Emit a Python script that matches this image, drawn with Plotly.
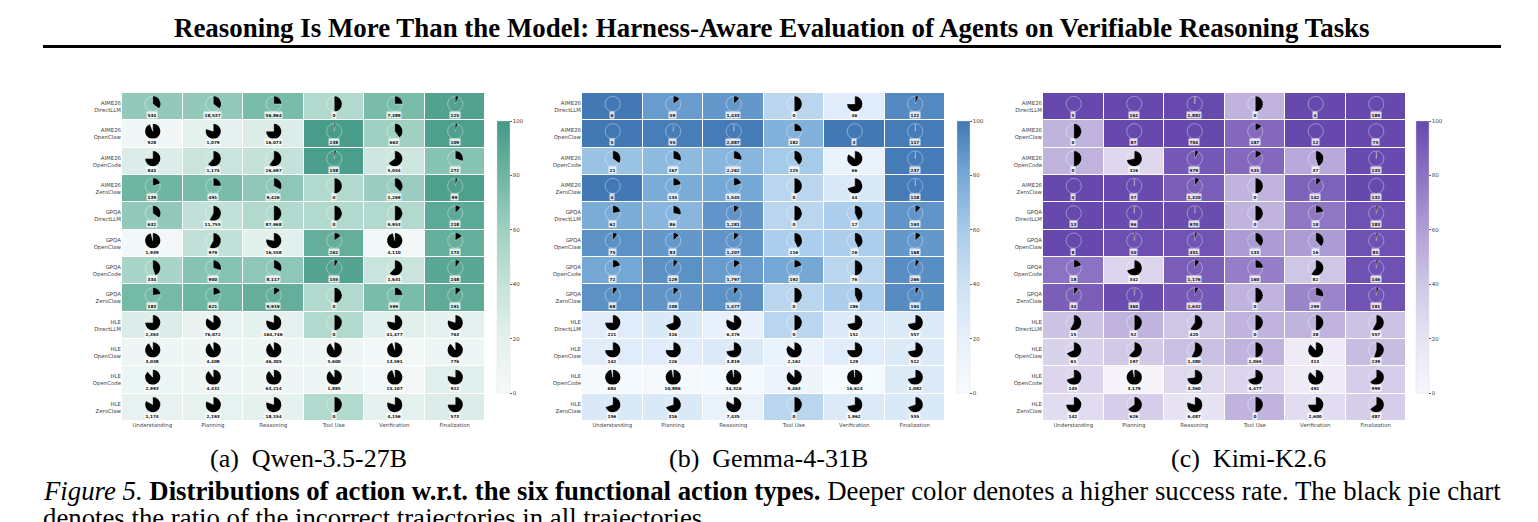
import plotly.graph_objects as go

ROWS = ["AIME26<br>DirectLLM", "AIME26<br>OpenClaw", "AIME26<br>OpenCode", "AIME26<br>ZeroClaw",
        "GPQA<br>DirectLLM", "GPQA<br>OpenClaw", "GPQA<br>OpenCode", "GPQA<br>ZeroClaw",
        "HLE<br>DirectLLM", "HLE<br>OpenClaw", "HLE<br>OpenCode", "HLE<br>ZeroClaw"]
COLS = ["Understanding", "Planning", "Reasoning", "Tool Use", "Verification", "Finalization"]
CBAR_TICKS = [0, 20, 40, 60, 80, 100]

SUCCESS_A = [[65, 65, 75, 50, 75, 93], [6, 20, 25, 97, 60, 95], [25, 38, 40, 96, 35, 70], [80, 75, 67, 50, 62, 95],
             [65, 42, 50, 50, 50, 88], [4, 42, 22, 85, 4, 84], [55, 70, 67, 92, 38, 90], [77, 80, 85, 50, 75, 87],
             [25, 15, 20, 50, 22, 20], [8, 8, 8, 8, 5, 10], [12, 10, 10, 10, 5, 22], [17, 18, 20, 50, 20, 25]]
COUNTS_A = [["534", "18,537", "56,864", "0", "7,389", "225"], ["928", "1,079", "16,073", "238", "663", "109"],
            ["843", "1,174", "26,697", "158", "5,054", "272"], ["139", "491", "9,426", "0", "1,269", "99"],
            ["632", "11,755", "87,968", "0", "9,953", "218"], ["1,939", "979", "16,558", "262", "4,110", "173"],
            ["334", "900", "8,117", "155", "1,631", "248"], ["183", "621", "9,919", "0", "599", "191"],
            ["2,363", "76,072", "164,746", "0", "41,477", "763"], ["3,038", "4,408", "46,305", "5,600", "13,591", "776"],
            ["2,993", "4,432", "63,214", "1,885", "15,107", "922"], ["1,174", "2,193", "18,154", "0", "4,156", "573"]]

SUCCESS_B = [[100, 85, 87, 50, 25, 93], [100, 98, 99, 75, 100, 99], [65, 70, 72, 60, 15, 99], [100, 78, 80, 50, 30, 99],
             [78, 72, 88, 50, 57, 88], [90, 87, 88, 57, 57, 87], [80, 90, 85, 80, 50, 91], [90, 88, 90, 50, 57, 92],
             [25, 30, 18, 50, 28, 28], [25, 25, 28, 15, 25, 28], [3, 3, 3, 12, 2, 28], [30, 30, 17, 50, 28, 30]]
COUNTS_B = [["6", "59", "1,433", "0", "46", "122"], ["5", "55", "2,087", "182", "3", "117"],
            ["21", "167", "2,262", "225", "66", "237"], ["4", "134", "1,545", "0", "44", "118"],
            ["62", "86", "1,281", "0", "17", "193"], ["75", "83", "1,207", "216", "26", "168"],
            ["72", "129", "1,797", "192", "76", "266"], ["68", "108", "1,477", "0", "286", "194"],
            ["221", "316", "6,376", "0", "152", "557"], ["142", "226", "3,819", "2,162", "129", "512"],
            ["684", "10,896", "34,326", "9,463", "16,624", "1,082"], ["156", "316", "7,435", "0", "1,962", "555"]]

SUCCESS_C = [[100, 100, 99.5, 50, 100, 100], [50, 100, 100, 85, 100, 100], [50, 28, 92, 85, 55, 99], [100, 99, 90, 50, 88, 100],
             [100, 99, 98, 50, 78, 96], [100, 97, 95, 62, 62, 96], [80, 30, 90, 75, 40, 96], [90, 98, 92, 50, 72, 95],
             [42, 50, 40, 50, 50, 42], [32, 38, 43, 50, 12, 45], [30, 3, 27, 30, 13, 35], [25, 35, 20, 50, 25, 35]]
COUNTS_C = [["5", "161", "1,882", "0", "4", "189"], ["0", "87", "704", "187", "12", "75"],
            ["0", "326", "979", "535", "37", "233"], ["4", "37", "1,320", "0", "142", "132"],
            ["13", "96", "970", "0", "18", "183"], ["8", "50", "451", "133", "16", "85"],
            ["18", "342", "1,176", "160", "82", "146"], ["34", "360", "1,632", "0", "299", "191"],
            ["15", "52", "420", "0", "38", "557"], ["61", "197", "1,380", "2,065", "313", "239"],
            ["145", "3,179", "3,360", "4,477", "492", "999"], ["142", "626", "6,487", "0", "2,600", "487"]]

SCALE_A = [[0, "#f5fafa"], [0.2, "#e4f1ee"], [0.4, "#c5e2da"], [0.6, "#9fd0c2"], [0.8, "#6eb5a2"], [1, "#449886"]]
SCALE_B = [[0, "#f7fbff"], [0.2, "#e6f0fa"], [0.4, "#cde1f4"], [0.6, "#a6cbea"], [0.8, "#76a8d6"], [1, "#4279b5"]]
SCALE_C = [[0, "#f8f6fc"], [0.2, "#e8e3f3"], [0.4, "#cfc6e6"], [0.6, "#b09fd6"], [0.8, "#8c72c2"], [1, "#6749ae"]]

W, H = 1538, 522
PANELS = [
    dict(z=SUCCESS_A, n=COUNTS_A, scale=SCALE_A, left=122, cbar=497),
    dict(z=SUCCESS_B, n=COUNTS_B, scale=SCALE_B, left=582, cbar=957),
    dict(z=SUCCESS_C, n=COUNTS_C, scale=SCALE_C, left=1043, cbar=1416),
]
MAP_W, MAP_TOP, MAP_BOTTOM = 363, 93, 421
CB_TOP, CB_BOTTOM, CB_W = 121, 393, 13
PIE_R = 7.6

fig = go.Figure()
layout_axes = {}
annotations = []
for k, p in enumerate(PANELS):
    s = "" if k == 0 else str(k + 1)
    fig.add_trace(go.Heatmap(
        z=p["z"], x=list(range(6)), y=list(range(12)),
        colorscale=p["scale"], zmin=0, zmax=100, xgap=1, ygap=1, hoverinfo="skip",
        xaxis="x" + s, yaxis="y" + s,
        colorbar=dict(
            xref="paper", yref="paper", x=p["cbar"] / W, xanchor="left", y=1 - CB_BOTTOM / H, yanchor="bottom",
            lenmode="pixels", len=CB_BOTTOM - CB_TOP, thicknessmode="pixels", thickness=CB_W, xpad=0, ypad=0,
            tickvals=CBAR_TICKS, ticks="outside", ticklen=2, tickwidth=0.5, tickcolor="#555",
            tickfont=dict(family="DejaVu Sans", size=5.5, color="#444"),
            outlinewidth=0.4, outlinecolor="#dddddd"),
    ))
    layout_axes["xaxis" + s] = dict(
        domain=[p["left"] / W, (p["left"] + MAP_W) / W], range=[-0.5, 5.5], anchor="y" + s,
        tickvals=list(range(6)), ticktext=COLS, ticks="", showgrid=False, zeroline=False, showline=False,
        tickfont=dict(family="DejaVu Sans", size=5.4, color="#444"))
    layout_axes["yaxis" + s] = dict(
        domain=[1 - MAP_BOTTOM / H, 1 - MAP_TOP / H], range=[11.5, -0.5], anchor="x" + s,
        tickvals=list(range(12)), ticktext=ROWS, ticks="", showgrid=False, zeroline=False, showline=False,
        tickfont=dict(family="DejaVu Sans", size=5.4, color="#444"))
    cw, ch = MAP_W / 6, (MAP_BOTTOM - MAP_TOP) / 12
    for i, row in enumerate(p["z"]):
        for j, v in enumerate(row):
            cx = p["left"] + (j + 0.5) * cw + 0.5
            cy = MAP_TOP + (i + 0.40) * ch
            fig.add_trace(go.Pie(
                values=[100 - v, v], sort=False, direction="clockwise", rotation=0, textinfo="none",
                hoverinfo="skip", showlegend=False,
                marker=dict(colors=["#000000", "rgba(255,255,255,0)"],
                            line=dict(color=["rgba(255,255,255,0)", "rgba(255,255,255,0.75)"], width=0.5)),
                domain=dict(x=[(cx - PIE_R) / W, (cx + PIE_R) / W], y=[1 - (cy + PIE_R) / H, 1 - (cy - PIE_R) / H]),
            ))
            annotations.append(dict(
                x=j, y=i + 0.305, xref="x" + s, yref="y" + s, text=p["n"][i][j], showarrow=False,
                font=dict(family="DejaVu Sans", size=4.2, color="#111", weight="bold"),
                bgcolor="rgba(255,255,255,0.8)", borderpad=0.5))

def paper_text(x, y, text, size, anchor="center"):
    annotations.append(dict(x=x / W, y=1 - y / H, xref="paper", yref="paper", text=text, showarrow=False,
                            xanchor=anchor, yanchor="middle",
                            font=dict(family="Liberation Serif", size=size, color="#000")))

paper_text(772, 28, "<b>Reasoning Is More Than the Model: Harness-Aware Evaluation of Agents on Verifiable Reasoning Tasks</b>", 26.9)
paper_text(308, 458, "(a)  Qwen-3.5-27B", 26)
paper_text(768, 458, "(b)  Gemma-4-31B", 26)
paper_text(1248, 458, "(c)  Kimi-K2.6", 26)
paper_text(40.5, 491, "<i>Figure 5.</i> <b>Distributions of action w.r.t. the six functional action types.</b> Deeper color denotes a higher success rate. The black pie chart", 26.77, "left")
paper_text(40.5, 518, "denotes the ratio of the incorrect trajectories in all trajectories.", 26.77, "left")

fig.update_layout(
    width=W, height=H, margin=dict(l=0, r=0, t=0, b=0), paper_bgcolor="white", plot_bgcolor="white",
    annotations=annotations, showlegend=False,
    shapes=[dict(type="line", xref="paper", yref="paper", x0=43 / W, x1=1501 / W, y0=1 - 46.5 / H, y1=1 - 46.5 / H,
                 line=dict(color="black", width=3))],
    **layout_axes)

fig.write_html("out.html", config=dict(displayModeBar=False),
               post_script="document.body.style.margin='0';document.body.style.overflow='hidden';")
